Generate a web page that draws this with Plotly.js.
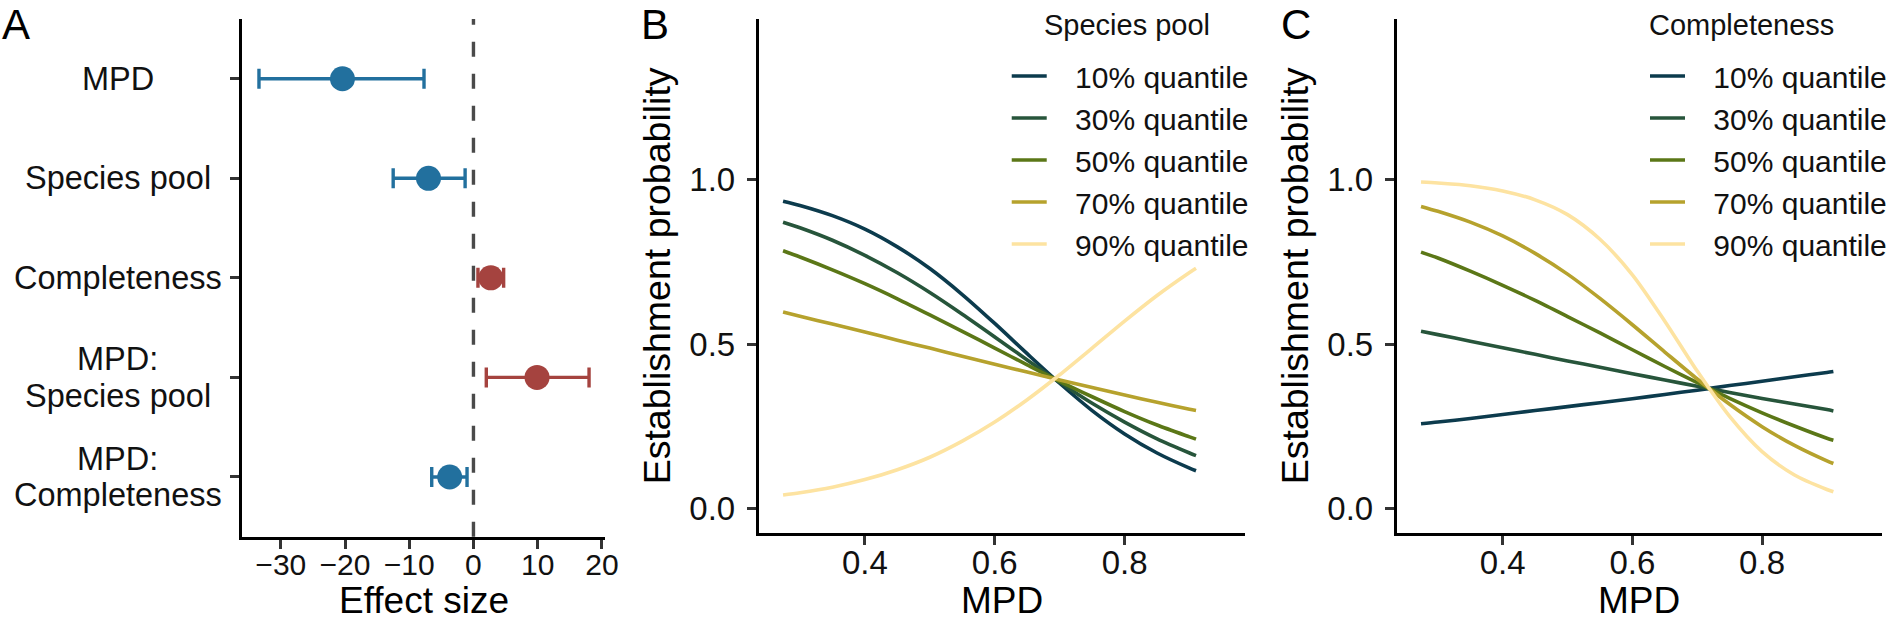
<!DOCTYPE html>
<html>
<head>
<meta charset="utf-8">
<script src="https://cdn.plot.ly/plotly-3.0.1.min.js"></script>
<style>
  html, body { margin: 0; padding: 0; background: #fff; }
  #chart { width: 1892px; height: 622px; }
</style>
</head>
<body>
<div id="chart"></div>
<script>
// ---- Panel A: model coefficients (estimate with interval) ----
const terms = ["MPD", "Species pool", "Completeness", "MPD:Species pool", "MPD:Completeness"];
const termLabels = [["MPD"], ["Species pool"], ["Completeness"], ["MPD:", "Species pool"], ["MPD:", "Completeness"]];
const estimate = [-20.4, -7.0, 2.7, 9.9, -3.7];
const lower = [-33.4, -12.5, 0.7, 2.0, -6.5];
const upper = [-7.7, -1.3, 4.7, 18.0, -1.0];
const effectTicks = [-30, -20, -10, 0, 10, 20];
const effectTickText = ["\u221230", "\u221220", "\u221210", "0", "10", "20"];

// ---- Panels B and C: predicted establishment probability along MPD ----
const quantiles = ["10% quantile", "30% quantile", "50% quantile", "70% quantile", "90% quantile"];
const mpd = [0.274, 0.30, 0.35, 0.40, 0.45, 0.50, 0.55, 0.60, 0.65, 0.70, 0.75, 0.80, 0.85, 0.90, 0.91];

const poolQ10 = [0.935, 0.922, 0.891, 0.850, 0.796, 0.730, 0.651, 0.563, 0.471, 0.381, 0.298, 0.227, 0.169, 0.123, 0.115];
const poolQ30 = [0.871, 0.854, 0.816, 0.770, 0.717, 0.657, 0.591, 0.522, 0.452, 0.384, 0.320, 0.263, 0.212, 0.169, 0.161];
const poolQ50 = [0.784, 0.765, 0.726, 0.684, 0.638, 0.589, 0.539, 0.488, 0.437, 0.387, 0.340, 0.295, 0.254, 0.218, 0.211];
const poolQ70 = [0.598, 0.585, 0.561, 0.537, 0.512, 0.488, 0.463, 0.439, 0.415, 0.391, 0.368, 0.345, 0.323, 0.302, 0.298];
const poolQ90 = [0.041, 0.048, 0.065, 0.088, 0.118, 0.156, 0.205, 0.263, 0.331, 0.407, 0.488, 0.570, 0.648, 0.718, 0.731];

const complQ10 = [0.258, 0.263, 0.274, 0.286, 0.298, 0.310, 0.322, 0.334, 0.347, 0.360, 0.374, 0.387, 0.401, 0.414, 0.417];
const complQ30 = [0.539, 0.529, 0.509, 0.489, 0.469, 0.449, 0.430, 0.410, 0.391, 0.372, 0.353, 0.335, 0.318, 0.301, 0.297];
const complQ50 = [0.780, 0.762, 0.722, 0.679, 0.633, 0.584, 0.534, 0.483, 0.432, 0.383, 0.335, 0.291, 0.251, 0.214, 0.208];
const complQ70 = [0.919, 0.904, 0.871, 0.829, 0.776, 0.713, 0.639, 0.559, 0.476, 0.394, 0.317, 0.249, 0.192, 0.145, 0.137];
const complQ90 = [0.993, 0.990, 0.982, 0.966, 0.939, 0.894, 0.819, 0.711, 0.570, 0.418, 0.280, 0.173, 0.102, 0.058, 0.051];

const probTicks = [0, 0.5, 1];
const probTickText = ["0.0", "0.5", "1.0"];
const mpdTicks = [0.4, 0.6, 0.8];
const mpdTickText = ["0.4", "0.6", "0.8"];

// ---- styling ----
const W = 1892, H = 622;
const fx = p => p / W;
const fy = p => 1 - p / H;
const FONT = 'Arial, "Liberation Sans", Helvetica, sans-serif';
const quantColors = ["#0c3b4d", "#27553b", "#5b7717", "#b6a22d", "#fde3a1"];
const negColor = "#22709e";
const posColor = "#a5433f";

const traces = [];

// Coefficient points split by sign so each group gets its colour
function coefTrace(keep, color) {
  const idx = estimate.map((v, i) => i).filter(keep);
  return {
    type: "scatter", mode: "markers", xaxis: "x", yaxis: "y", showlegend: false,
    x: idx.map(i => estimate[i]),
    y: idx.map(i => terms[i]),
    marker: { size: 25, color: color },
    error_x: {
      type: "data", symmetric: false,
      array: idx.map(i => upper[i] - estimate[i]),
      arrayminus: idx.map(i => estimate[i] - lower[i]),
      color: color, thickness: 3.4, width: 10
    },
    hoverinfo: "skip"
  };
}
traces.push(coefTrace(i => estimate[i] < 0, negColor));
traces.push(coefTrace(i => estimate[i] >= 0, posColor));

const poolSeries = [poolQ10, poolQ30, poolQ50, poolQ70, poolQ90];
const complSeries = [complQ10, complQ30, complQ50, complQ70, complQ90];
const pad = "\u2002\u00a0";

poolSeries.forEach((ys, k) => traces.push({
  type: "scatter", mode: "lines", xaxis: "x2", yaxis: "y2", legend: "legend",
  name: pad + quantiles[k], x: mpd, y: ys,
  line: { color: quantColors[k], width: 3.6, shape: "spline", smoothing: 0.8 },
  hoverinfo: "skip"
}));
complSeries.forEach((ys, k) => traces.push({
  type: "scatter", mode: "lines", xaxis: "x3", yaxis: "y3", legend: "legend2",
  name: pad + quantiles[k], x: mpd, y: ys,
  line: { color: quantColors[k], width: 3.6, shape: "spline", smoothing: 0.8 },
  hoverinfo: "skip"
}));

const axisBase = {
  showline: true, linecolor: "#000", linewidth: 3,
  ticks: "outside", ticklen: 9, tickwidth: 3, tickcolor: "#333",
  showgrid: false, zeroline: false, automargin: false, fixedrange: true,
  tickfont: { size: 30, color: "#111" }, ticklabelstandoff: -10
};

function probYAxis(anchor, domain) {
  return Object.assign({}, axisBase, {
    anchor: anchor, domain: domain, range: [-0.0735, 1.489],
    tickmode: "array", tickvals: probTicks, ticktext: probTickText,
    tickfont: { size: 33, color: "#111" }, ticklabelstandoff: 5,
    title: { text: "Establishment probability", font: { size: 37.5 }, standoff: 8 }
  });
}
function mpdXAxis(anchor, domain) {
  return Object.assign({}, axisBase, {
    anchor: anchor, domain: domain, range: [0.2366, 0.985],
    tickmode: "array", tickvals: mpdTicks, ticktext: mpdTickText,
    tickfont: { size: 33, color: "#111" }, ticklabelstandoff: -10
  });
}

const legendBase = {
  xanchor: "left", yanchor: "top", font: { size: 30, color: "#111" },
  bgcolor: "rgba(0,0,0,0)", borderwidth: 0, itemwidth: 35,
  itemclick: false, itemdoubleclick: false, tracegroupgap: 0
};

const annotations = [];
// Category labels of panel A, centred like the original theme
termLabels.forEach((lines, i) => {
  const step = 36.5;
  lines.forEach((line, j) => annotations.push({
    xref: "paper", yref: "y", x: fx(118), y: terms[i], text: line,
    yshift: -(j - (lines.length - 1) / 2) * step,
    showarrow: false, xanchor: "center", yanchor: "middle",
    font: { size: 32.5, color: "#111" }
  }));
});
// Panel tags
[["A", 1], ["B", 643], ["C", 1285]].forEach(([t, xp]) => annotations.push({
  xref: "paper", yref: "paper", x: fx(xp), y: 1, text: t, showarrow: false,
  xanchor: "left", yanchor: "top", borderpad: 0, font: { size: 42, color: "#000" }
}));
// Legend headings
[["Species pool", 1132], ["Completeness", 1749]].forEach(([t, xp]) => annotations.push({
  xref: "paper", yref: "paper", x: fx(xp), y: fy(25), text: t, showarrow: false,
  xanchor: "center", yanchor: "middle", font: { size: 29, color: "#111" }
}));
// X-axis titles, placed under each panel's tick labels
[["Effect size", "x", 37], ["MPD", "x2", 37], ["MPD", "x3", 37]].forEach(([t, ax, sz]) => annotations.push({
  xref: ax + " domain", yref: "paper", x: 0.5, y: 0, text: t, showarrow: false,
  xanchor: "center", yanchor: "bottom", borderpad: 0, font: { size: sz, color: "#000" }
}));

const layout = {
  width: W, height: H,
  margin: { l: 0, r: 0, t: 0, b: 0 },
  paper_bgcolor: "#fff", plot_bgcolor: "#fff",
  font: { family: FONT, color: "#000" },
  showlegend: true,
  xaxis: Object.assign({}, axisBase, {
    anchor: "y", domain: [fx(243.3), fx(608)], range: [-36.0, 20.55],
    tickmode: "array", tickvals: effectTicks, ticktext: effectTickText
  }),
  yaxis: Object.assign({}, axisBase, {
    anchor: "x", domain: [fy(536.7), fy(19)], type: "category",
    categoryorder: "array", categoryarray: terms, range: [4.6, -0.6],
    showticklabels: false
  }),
  xaxis2: mpdXAxis("y2", [fx(762), fx(1250)]),
  yaxis2: probYAxis("x2", [fy(532.7), fy(19)]),
  xaxis3: mpdXAxis("y3", [fx(1402.7), fx(1890)]),
  yaxis3: probYAxis("x3", [fy(532.7), fy(19)]),
  legend: Object.assign({}, legendBase, { x: fx(1011), y: fy(50) }),
  legend2: Object.assign({}, legendBase, { x: fx(1652), y: fy(50) }),
  shapes: [{
    type: "line", xref: "x", yref: "y domain", x0: 0, x1: 0, y0: 0, y1: 1,
    line: { color: "#4a4a4a", width: 3.4, dash: "15px,17px" }, layer: "below"
  }],
  annotations: annotations
};

Plotly.newPlot("chart", traces, layout, { staticPlot: true, displayModeBar: false });
</script>
</body>
</html>
